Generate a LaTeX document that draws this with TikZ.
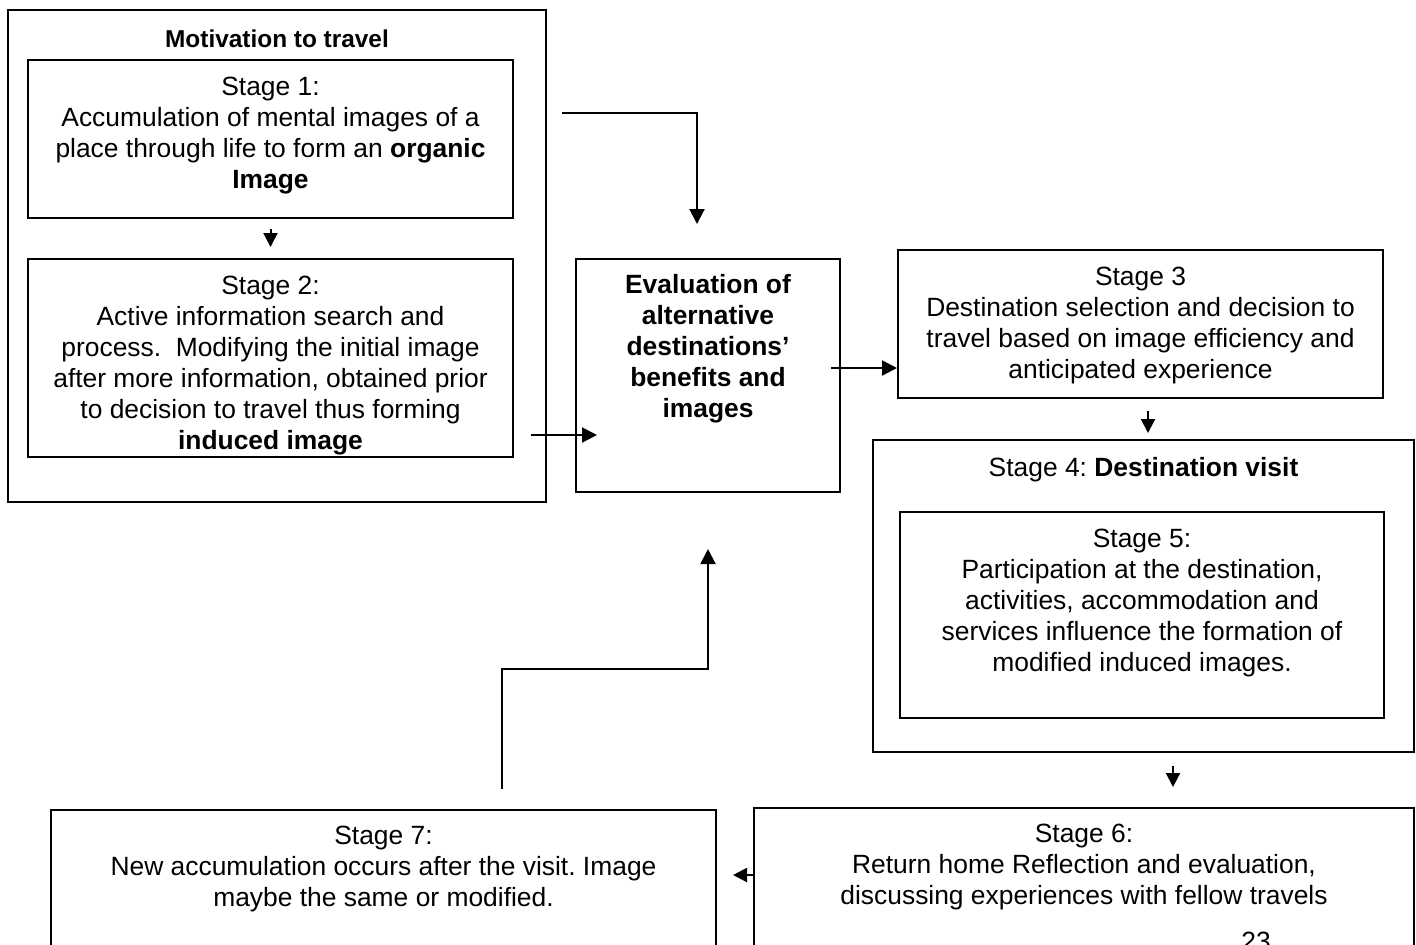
\documentclass[tikz,border=0pt]{standalone}
\usepackage{fontspec}
\setmainfont{Liberation Sans}
\usetikzlibrary{positioning, fit, arrows.meta}
\frenchspacing

\begin{document}
\begin{tikzpicture}[x=0.5pt, y=-0.5pt,
    box/.style={draw, line width=1pt, inner sep=0pt},
    txt/.style={inner sep=0pt, align=center, font=\fontsize{13.2}{15.5}\selectfont},
    arr/.style={line width=1pt, -{Triangle[length=7.5pt,width=7.5pt]}},
    sarr/.style={line width=1pt, -{Triangle[length=7pt,width=7pt]}}]
  \useasboundingbox (0,0) rectangle (1416,944);
  \coordinate (t1) at (0,113);
  \coordinate (t2) at (0,435);

  % Motivation to travel
  \node[box, fit={(8,10) (546,502)}] (motiv) {};
  \node[txt, font=\fontsize{12.2}{14}\selectfont\bfseries] (mtitle) at (277,39) {Motivation to travel};

  \node[box, fit={(28,60) (513,218)}] (s1) {};
  \node[txt, below=9pt of s1.north] (s1t) {Stage 1:\\Accumulation of mental images of a\\place through life to form an \textbf{organic}\\\textbf{Image}};

  \node[box, fit={(28,259) (513,457)}] (s2) {};
  \node[txt, below=9pt of s2.north] (s2t) {Stage 2:\\Active information search and\\process.\ \ Modifying the initial image\\after more information, obtained prior\\to decision to travel thus forming\\\textbf{induced image}};

  % Evaluation
  \node[box, fit={(576,259) (840,492)}] (eval) {};
  \node[txt, font=\fontsize{13.2}{15.5}\selectfont\bfseries, below=8pt of eval.north] (evalt) {Evaluation of\\alternative\\destinations’\\benefits and\\images};

  % Stage 3
  \node[box, fit={(898,250) (1383,398)}] (s3) {};
  \node[txt, below=9pt of s3.north] (s3t) {Stage 3\\Destination selection and decision to\\travel based on image efficiency and\\anticipated experience};

  % Stage 4 and 5
  \node[box, fit={(873,440) (1414,752)}] (s4) {};
  \node[txt, below=9pt of s4.north] (s4t) {Stage 4: \textbf{Destination visit}};
  \node[box, fit={(900,512) (1384,718)}] (s5) {};
  \node[txt, below=9pt of s5.north] (s5t) {Stage 5:\\Participation at the destination,\\activities, accommodation and\\services influence the formation of\\modified induced images.};

  % Stage 6 and 7
  \node[box, fit={(754,808) (1414,970)}] (s6) {};
  \node[txt, below=8.5pt of s6.north] (s6t) {Stage 6:\\Return home Reflection and evaluation,\\discussing experiences with fellow travels};
  \node[box, fit={(51,810) (716,970)}] (s7) {};
  \node[txt, below=8.5pt of s7.north] (s7t) {Stage 7:\\New accumulation occurs after the visit. Image\\maybe the same or modified.};
  \node[txt, anchor=base] (pnum) at (1256,950) {23};

  % Arrows
  \draw[sarr, shorten <=5pt, shorten >=5.5pt] (s1) -- (s2);
  \draw[arr, shorten >=17pt] ([xshift=7.5pt]motiv.east |- t1) -| ([xshift=-5.5pt]eval.north);
  \draw[arr] ([xshift=8.5pt]s2.east |- t2) -- ([xshift=11pt]eval.west |- t2);
  \draw[arr] ([shift={(-10,-7.5)}]eval.east) coordinate (e1) -- (s3.west |- e1);
  \draw[sarr, shorten <=6pt, shorten >=3pt] ([xshift=3.75pt]s3.south) -- ([xshift=3.75pt]s3.south |- s4.north);
  \draw[sarr, shorten <=6.5pt, shorten >=10pt] ([xshift=14.75pt]s4.south) -- ([xshift=14.75pt]s4.south |- s6.north);
  \draw[sarr, shorten >=8pt] ([yshift=7pt]s6.west) -- ([yshift=7pt]s6.west -| s7.east);
  \draw[arr, shorten <=10pt, shorten >=28pt] ([xshift=59.25pt]s7.north) -- ++(0,-140) -| (eval.south);
\end{tikzpicture}
\end{document}
